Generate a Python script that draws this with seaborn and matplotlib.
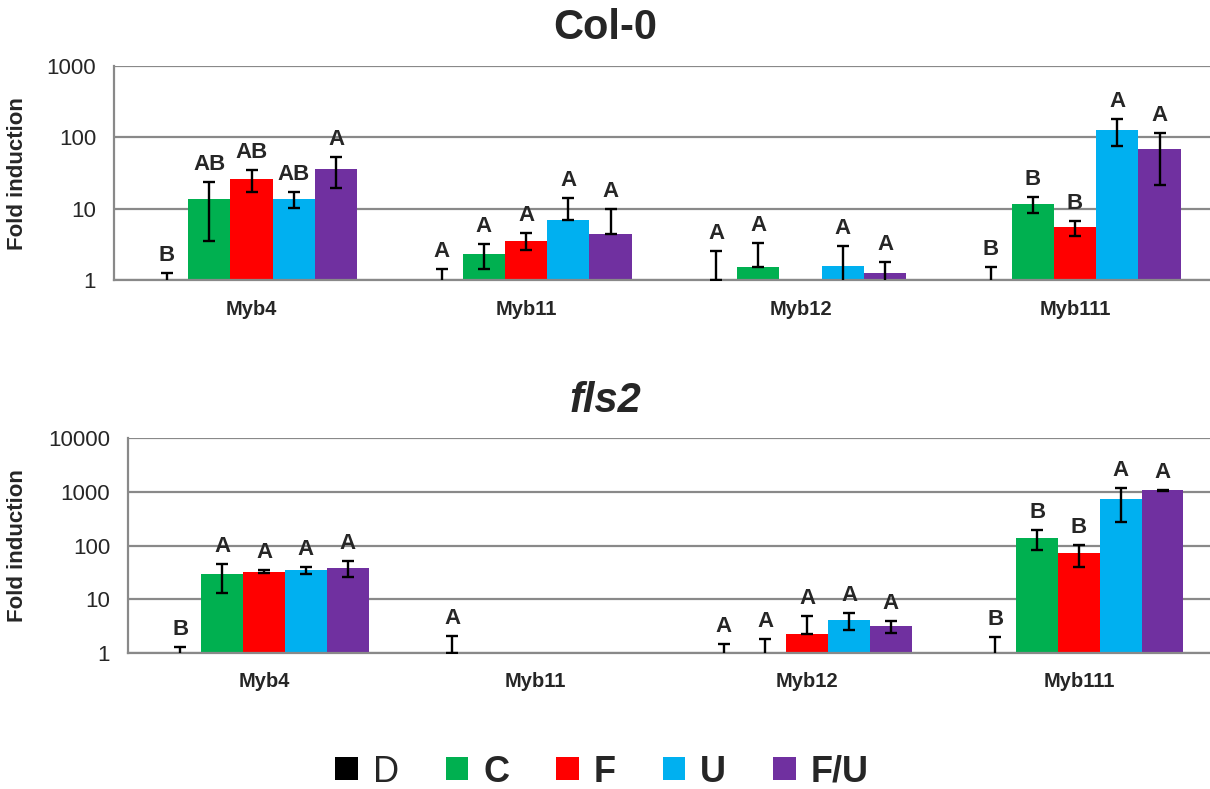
import numpy as np
import pandas as pd
import matplotlib
matplotlib.use("Agg")
import matplotlib.pyplot as plt
from matplotlib.patches import Patch
import seaborn as sns

# ---------------- data ----------------
genes = ["Myb4", "Myb11", "Myb12", "Myb111"]
treatments = ["D", "C", "F", "U", "F/U"]
colors = ["#000000", "#00B050", "#FF0000", "#00B0F0", "#7030A0"]

col0_D = [1.0, 1.0, 1.0, 1.0]
col0_C = [13.6, 2.34, 1.53, 11.7]
col0_F = [26.0, 3.59, 0.98, 5.52]
col0_U = [13.9, 6.92, 1.57, 128.8]
col0_FU = [36.6, 4.5, 1.25, 68.4]

col0_D_sd = [0.28, 0.43, 1.57, 0.53]
col0_C_sd = [10.0, 0.92, 1.83, 3.0]
col0_F_sd = [9.0, 0.95, 0.0, 1.3]
col0_U_sd = [3.5, 7.4, 1.45, 53.0]
col0_FU_sd = [17.0, 5.4, 0.55, 47.0]

col0_D_let = ["B", "A", "A", "B"]
col0_C_let = ["AB", "A", "A", "B"]
col0_F_let = ["AB", "A", "", "B"]
col0_U_let = ["AB", "A", "A", "A"]
col0_FU_let = ["A", "A", "A", "A"]

fls2_D = [1.0, 1.0, 1.0, 1.0]
fls2_C = [29.0, np.nan, 1.04, 138.0]
fls2_F = [32.4, np.nan, 2.2, 71.5]
fls2_U = [34.9, np.nan, 4.07, 728.0]
fls2_FU = [38.5, np.nan, 3.15, 1072.0]

fls2_D_sd = [0.26, 1.02, 0.43, 0.94]
fls2_C_sd = [16.0, np.nan, 0.74, 56.0]
fls2_F_sd = [2.0, np.nan, 2.64, 31.0]
fls2_U_sd = [5.4, np.nan, 1.4, 450.0]
fls2_FU_sd = [13.0, np.nan, 0.8, 15.0]

fls2_D_let = ["B", "A", "A", "B"]
fls2_C_let = ["A", "", "A", "B"]
fls2_F_let = ["A", "", "A", "B"]
fls2_U_let = ["A", "", "A", "A"]
fls2_FU_let = ["A", "", "A", "A"]

panels = [
    dict(title="Col-0", italic=False,
         means=[col0_D, col0_C, col0_F, col0_U, col0_FU],
         sds=[col0_D_sd, col0_C_sd, col0_F_sd, col0_U_sd, col0_FU_sd],
         letters=[col0_D_let, col0_C_let, col0_F_let, col0_U_let, col0_FU_let],
         ymax=1000, ticks=[1, 10, 100, 1000]),
    dict(title="fls2", italic=True,
         means=[fls2_D, fls2_C, fls2_F, fls2_U, fls2_FU],
         sds=[fls2_D_sd, fls2_C_sd, fls2_F_sd, fls2_U_sd, fls2_FU_sd],
         letters=[fls2_D_let, fls2_C_let, fls2_F_let, fls2_U_let, fls2_FU_let],
         ymax=10000, ticks=[1, 10, 100, 1000, 10000]),
]

# ---------------- style ----------------
sns.set_style("white")
plt.rcParams["font.family"] = ["Liberation Sans", "DejaVu Sans"]

W, H = 1210, 789
fig = plt.figure(figsize=(W / 100, H / 100), dpi=100)

# axes rectangles in pixels: left, top, right, bottom
rects = [(114.3, 66.0, 1212.3, 280.3), (128.3, 438.3, 1214.7, 652.7)]
title_y = [28, 401]
ylabel_x = 28
GRID = "#898989"
BAR_W = 0.77

for p, (l, t, r, b), ty in zip(panels, rects, title_y):
    ax = fig.add_axes([l / W, 1 - b / H, (r - l) / W, (b - t) / H])
    ax.set_yscale("log")

    rows = []
    for tr, m in zip(treatments, p["means"]):
        for g, v in zip(genes, m):
            if not np.isnan(v):
                rows.append({"gene": g, "treatment": tr, "value": v})
    df = pd.DataFrame(rows)

    sns.barplot(data=df, x="gene", y="value", hue="treatment",
                order=genes, hue_order=treatments, palette=colors,
                width=BAR_W, saturation=1, errorbar=None, linewidth=0,
                legend=False, ax=ax, zorder=2)

    # error bars and significance letters
    n = len(treatments)
    bw = BAR_W / n
    for j, (m, s, lets) in enumerate(zip(p["means"], p["sds"], p["letters"])):
        for i, (v, sd, let) in enumerate(zip(m, s, lets)):
            x = i + (j - (n - 1) / 2) * bw
            top = 1.0
            if not np.isnan(v):
                top = max(v + sd, 1.0)
                if sd > 0:
                    lo = sd if v - sd > 0 else 0.0
                    ax.errorbar(x, v, yerr=[[lo], [sd]], fmt="none", ecolor="black",
                                elinewidth=1.7, capsize=4.5, capthick=1.7, zorder=4)
            if let:
                ax.annotate(let, (x, top), xytext=(0, 5), textcoords="offset points",
                            ha="center", va="bottom", fontsize=16, fontweight="bold",
                            zorder=5)

    ax.set_ylim(1, p["ymax"])
    ax.set_xlim(-0.5, len(genes) - 0.5)
    ax.set_axisbelow(True)
    ax.yaxis.grid(True, which="major", color=GRID, lw=1.6)
    ax.xaxis.grid(False)
    for sp in ["top", "right"]:
        ax.spines[sp].set_visible(False)
    for sp in ["left", "bottom"]:
        ax.spines[sp].set_color(GRID)
        ax.spines[sp].set_linewidth(1.6)

    ax.set_yticks(p["ticks"])
    ax.set_yticklabels([str(tk) for tk in p["ticks"]], fontsize=16)
    ax.yaxis.set_minor_locator(matplotlib.ticker.LogLocator(base=10, subs=np.arange(2, 10)))
    ax.yaxis.set_minor_formatter(matplotlib.ticker.NullFormatter())
    ax.tick_params(axis="y", which="major", direction="out", length=6, width=1.2,
                   color=GRID, pad=7)
    ax.tick_params(axis="y", which="minor", direction="out", length=4, width=1.0,
                   color=GRID)

    ax.set_xticks(range(len(genes)))
    ax.set_xticklabels(genes, fontsize=14.5, fontweight="bold")
    ax.set_xticks(np.arange(-0.5, len(genes), 1.0), minor=True)
    ax.tick_params(axis="x", which="major", length=0, pad=14)
    ax.tick_params(axis="x", which="minor", direction="out", length=7, width=1.2,
                   color=GRID)

    ax.set_xlabel("")
    ax.set_ylabel("Fold induction", fontsize=16, fontweight="bold")
    ax.yaxis.set_label_coords((ylabel_x - l) / (r - l), 0.5)

    fig.text(0.5, 1 - ty / H, p["title"], ha="center", va="center",
             fontsize=30, fontweight="bold",
             fontstyle="italic" if p["italic"] else "normal")

handles = [Patch(facecolor=c, edgecolor="none", label=tr)
           for c, tr in zip(colors, treatments)]
leg = fig.legend(handles=handles, loc="center", bbox_to_anchor=(602 / W, 1 - 772 / H),
                 ncol=5, frameon=False, fontsize=26, handlelength=0.62,
                 handleheight=0.62, handletextpad=0.42, columnspacing=1.3)
for k, txt in enumerate(leg.get_texts()):
    if k > 0:
        txt.set_fontweight("bold")

fig.savefig("out.png", dpi=100)
